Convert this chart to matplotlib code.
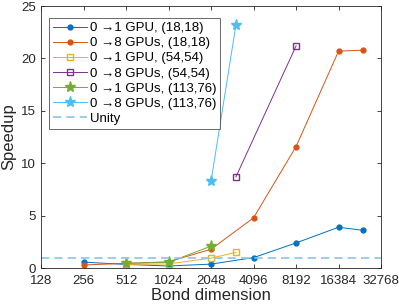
import matplotlib
matplotlib.use("Agg")
import matplotlib.pyplot as plt

plt.rcParams['font.family'] = ['Liberation Sans', 'DejaVu Sans']

# data
x_1gpu_18 = [256, 512, 1024, 2048, 4096, 8192, 16384, 24576]
y_1gpu_18 = [0.57, 0.35, 0.2, 0.38, 1.0, 2.4, 3.9, 3.6]
x_8gpu_18 = [256, 512, 1024, 2048, 4096, 8192, 16384, 24576]
y_8gpu_18 = [0.3, 0.45, 0.6, 1.8, 4.8, 11.6, 20.7, 20.8]
x_1gpu_54 = [512, 1024, 2048, 3072]
y_1gpu_54 = [0.35, 0.4, 0.95, 1.5]
x_8gpu_54 = [3072, 8192]
y_8gpu_54 = [8.7, 21.2]
x_1gpu_113 = [512, 1024, 2048]
y_1gpu_113 = [0.45, 0.55, 2.1]
x_8gpu_113 = [2048, 3072]
y_8gpu_113 = [8.3, 23.2]
xticks = [128, 256, 512, 1024, 2048, 4096, 8192, 16384, 32768]
yticks = [0, 5, 10, 15, 20, 25]

fig = plt.figure(figsize=(3.99, 3.05), dpi=100)
ax = fig.add_axes([0.103, 0.121, 0.852, 0.859])

lw = 0.7
ax.plot(x_1gpu_18, y_1gpu_18, '-o', color='#0072BD', lw=lw, ms=3.5,
        label='0 \u21921 GPU, (18,18)')
ax.plot(x_8gpu_18, y_8gpu_18, '-o', color='#D95319', lw=lw, ms=3.5,
        label='0 \u21928 GPUs, (18,18)')
ax.plot(x_1gpu_54, y_1gpu_54, '-s', color='#EDB120', lw=lw, ms=4.5, mfc='none',
        label='0 \u21921 GPU, (54,54)')
ax.plot(x_8gpu_54, y_8gpu_54, '-s', color='#7E2F8E', lw=lw, ms=4.5, mfc='none',
        label='0 \u21928 GPUs, (54,54)')
ax.plot(x_1gpu_113, y_1gpu_113, '-*', color='#77AC30', lw=lw, ms=8,
        label='0 \u21921 GPUs, (113,76)')
ax.plot(x_8gpu_113, y_8gpu_113, '-*', color='#4DBEEE', lw=lw, ms=8,
        label='0 \u21928 GPUs, (113,76)')
ax.axhline(1, ls='--', color='#8CC4EA', lw=1.2, dashes=(5, 3), label='Unity')

ax.set_xscale('log', base=2)
ax.set_xlim(128, 32768)
ax.set_ylim(0, 25)
ax.set_xticks(xticks)
ax.set_xticklabels([str(t) for t in xticks])
ax.set_yticks(yticks)
ax.minorticks_off()
ax.tick_params(direction='in', top=True, right=True, labelsize=9.5,
               length=3, width=0.6, colors='#262626')
ax.tick_params(axis='x', pad=5)
for s in ax.spines.values():
    s.set_linewidth(0.6)
    s.set_color('#262626')

ax.set_xlabel('Bond dimension', fontsize=12, color='#262626', labelpad=1)
ax.set_ylabel('Speedup', fontsize=12, color='#262626', labelpad=4)

leg = ax.legend(loc='upper left', fontsize=9.5, frameon=True, fancybox=False,
                edgecolor='#262626', borderpad=0.3, labelspacing=0.22,
                handlelength=2.6, handletextpad=0.2, borderaxespad=0.6,
                bbox_to_anchor=(0.0, 0.985))
leg.get_frame().set_linewidth(0.6)

fig.savefig('out.png', dpi=100)
